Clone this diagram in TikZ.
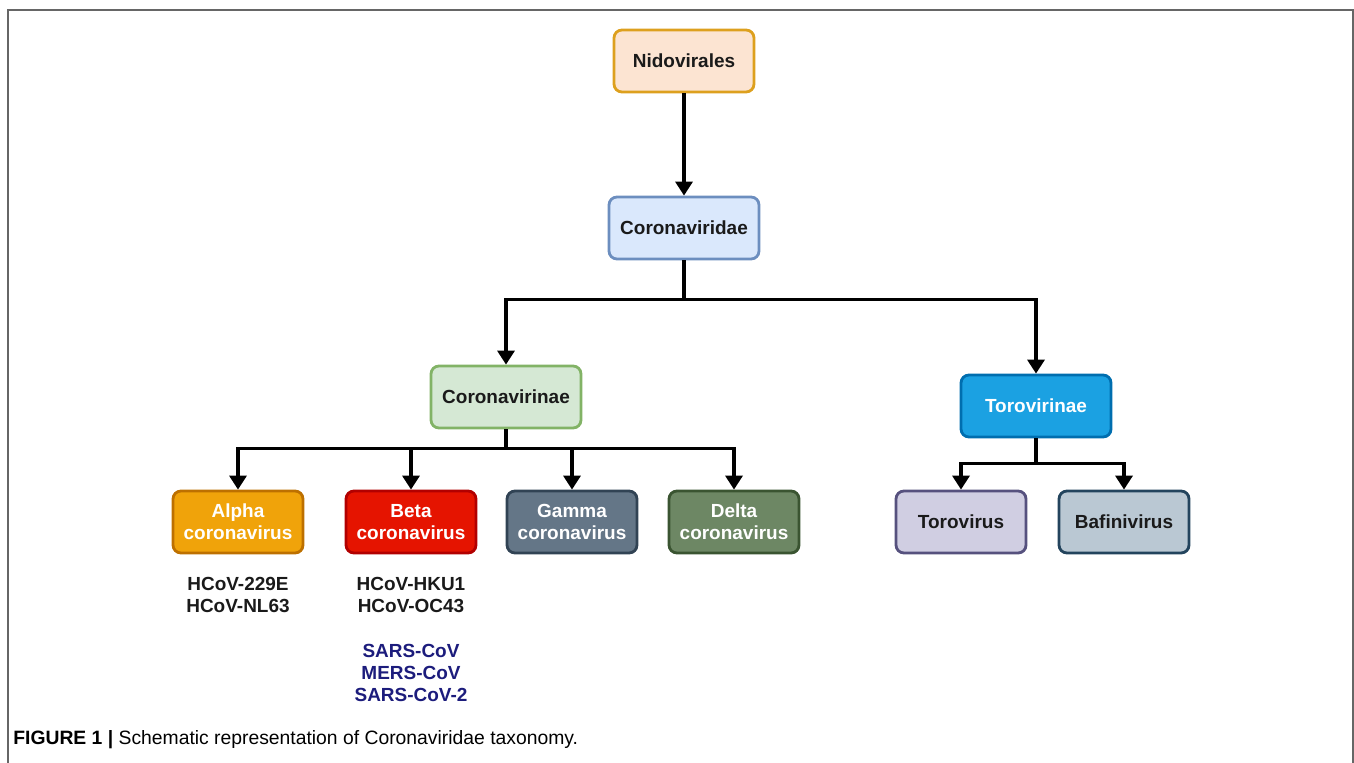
\documentclass[tikz,border=0pt]{standalone}
\usepackage{fontspec}
\setmainfont{Liberation Sans}
\usetikzlibrary{arrows.meta}
\definecolor{nidofill}{HTML}{FCE4D2}
\definecolor{nidoline}{HTML}{DDA01E}
\definecolor{cvdfill}{HTML}{DAE8FC}
\definecolor{cvdline}{HTML}{6C8EBF}
\definecolor{cvnfill}{HTML}{D5E8D4}
\definecolor{cvnline}{HTML}{82B366}
\definecolor{tvnfill}{HTML}{1BA1E2}
\definecolor{tvnline}{HTML}{006EAF}
\definecolor{alphafill}{HTML}{F0A30A}
\definecolor{alphaline}{HTML}{BD7000}
\definecolor{betafill}{HTML}{E51400}
\definecolor{betaline}{HTML}{B20000}
\definecolor{gammafill}{HTML}{647687}
\definecolor{gammaline}{HTML}{314354}
\definecolor{deltafill}{HTML}{6D8764}
\definecolor{deltaline}{HTML}{3A5431}
\definecolor{torofill}{HTML}{D0CEE2}
\definecolor{toroline}{HTML}{56517E}
\definecolor{bafifill}{HTML}{BAC8D3}
\definecolor{bafiline}{HTML}{23445D}
\definecolor{navytext}{HTML}{1C1C7C}
\definecolor{darktext}{HTML}{1A1A1A}
\tikzset{
	box/.style={rectangle, rounded corners=4.5pt, line width=1.6pt, align=center,
		font=\fontsize{10.8}{12.5}\selectfont\bfseries, minimum height=1.24cm},
	lightbox/.style={box, text=darktext},
	darkbox/.style={box, text=white},
	listtext/.style={align=center, font=\fontsize{10.8}{12.5}\selectfont\bfseries, inner sep=0pt},
	arr/.style={line width=1.9pt, -{Triangle[width=0.34cm,length=0.28cm]}},
	frameline/.style={draw=black!60, line width=1.1pt}
}

\begin{document}
\begin{tikzpicture}[x=0.02cm, y=-0.02cm]

\useasboundingbox (0,0) rectangle (1354,763);
\draw[frameline] (8,763) -- (8,10) -- (1353,10) -- (1353,763);

\def\rowy{522}

\node[lightbox, fill=nidofill, draw=nidoline, minimum width=2.8cm] (nido) at (684,61) {Nidovirales};
\node[lightbox, fill=cvdfill, draw=cvdline, minimum width=3.0cm] (cvd) at (684,228) {Coronaviridae};
\node[lightbox, fill=cvnfill, draw=cvnline, minimum width=3.0cm] (cvn) at (506,397) {Coronavirinae};
\node[darkbox, fill=tvnfill, draw=tvnline, minimum width=3.0cm] (tvn) at (1036,406) {Torovirinae};

\node[darkbox, fill=alphafill, draw=alphaline, minimum width=2.6cm] (alpha) at (238,\rowy) {Alpha\\coronavirus};
\node[darkbox, fill=betafill, draw=betaline, minimum width=2.6cm] (beta) at (411,\rowy) {Beta\\coronavirus};
\node[darkbox, fill=gammafill, draw=gammaline, minimum width=2.6cm] (gamma) at (572,\rowy) {Gamma\\coronavirus};
\node[darkbox, fill=deltafill, draw=deltaline, minimum width=2.6cm] (delta) at (734,\rowy) {Delta\\coronavirus};
\node[lightbox, fill=torofill, draw=toroline, minimum width=2.6cm] (toro) at (961,\rowy) {Torovirus};
\node[lightbox, fill=bafifill, draw=bafiline, minimum width=2.6cm] (bafi) at (1124,\rowy) {Bafinivirus};

\node[listtext, text=darktext] (alphalist) at (238,595) {HCoV-229E\\HCoV-NL63};
\node[listtext, text=darktext] (betalist) at (411,595) {HCoV-HKU1\\HCoV-OC43};
\node[listtext, text=navytext] (sarslist) at (411,673) {SARS-CoV\\MERS-CoV\\SARS-CoV-2};

\node[anchor=west, inner sep=0pt, font=\fontsize{11}{12}\selectfont] (caption) at (13,740)
	{\textbf{FIGURE 1 |} Schematic representation of Coronaviridae taxonomy.};

\draw[arr] (nido) -- (cvd);
\draw[arr] (cvd.south) -- ++(0,39) -| (cvn.north);
\draw[arr] (cvd.south) -- ++(0,39) -| (tvn.north);

\draw[arr] (cvn.south) -- ++(0,19) -| (alpha.north);
\draw[arr] (cvn.south) -- ++(0,19) -| (beta.north);
\draw[arr] (cvn.south) -- ++(0,19) -| (gamma.north);
\draw[arr] (cvn.south) -- ++(0,19) -| (delta.north);

\draw[arr] (tvn.south) -- ++(0,25) -| (toro.north);
\draw[arr] (tvn.south) -- ++(0,25) -| (bafi.north);
\end{tikzpicture}
\end{document}
